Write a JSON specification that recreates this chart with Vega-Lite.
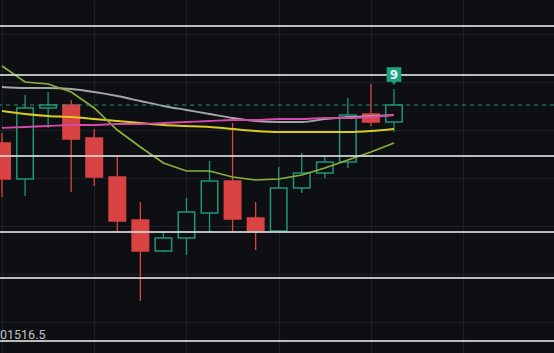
{
  "$schema": "https://vega.github.io/schema/vega-lite/v6.json",
  "width": 554,
  "height": 353,
  "autosize": {"type": "none"},
  "padding": 0,
  "background": "#0e0f12",
  "config": {
    "view": {"stroke": null, "fill": "#0e0f12"},
    "axis": {"labels": false, "ticks": false, "domain": false, "title": null, "gridColor": "#1d1f24", "gridWidth": 1.2, "gridOpacity": 1, "minExtent": 0, "maxExtent": 0, "offset": 0}
  },
  "datasets": {
    "candles": [
      {"i": 0, "open": 101714.5, "close": 101678.5, "high": 101724.5, "low": 101660.5, "ma_green": 101791.5, "ma_gray": 101770.5, "ma_yellow": 101746.5, "ma_pink": 101729.5},
      {"i": 1, "open": 101678.5, "close": 101749.5, "high": 101762.5, "low": 101661.5, "ma_green": 101775.5, "ma_gray": 101769.5, "ma_yellow": 101743.5, "ma_pink": 101730.5},
      {"i": 2, "open": 101749.5, "close": 101752.5, "high": 101765.5, "low": 101729.5, "ma_green": 101773.5, "ma_gray": 101769.5, "ma_yellow": 101741.5, "ma_pink": 101731.5},
      {"i": 3, "open": 101752.5, "close": 101718.5, "high": 101757.5, "low": 101665.5, "ma_green": 101765.5, "ma_gray": 101768.5, "ma_yellow": 101740.5, "ma_pink": 101732.5},
      {"i": 4, "open": 101719.5, "close": 101680.5, "high": 101728.5, "low": 101671.5, "ma_green": 101749.5, "ma_gray": 101765.5, "ma_yellow": 101738.5, "ma_pink": 101732.5},
      {"i": 5, "open": 101680.5, "close": 101636.5, "high": 101701.5, "low": 101625.5, "ma_green": 101727.5, "ma_gray": 101761.5, "ma_yellow": 101736.5, "ma_pink": 101733.5},
      {"i": 6, "open": 101637.5, "close": 101606.5, "high": 101655.5, "low": 101556.5, "ma_green": 101710.5, "ma_gray": 101756.5, "ma_yellow": 101734.5, "ma_pink": 101733.5},
      {"i": 7, "open": 101606.5, "close": 101619.5, "high": 101626.5, "low": 101605.5, "ma_green": 101694.5, "ma_gray": 101751.5, "ma_yellow": 101732.5, "ma_pink": 101734.5},
      {"i": 8, "open": 101619.5, "close": 101645.5, "high": 101659.5, "low": 101602.5, "ma_green": 101686.5, "ma_gray": 101747.5, "ma_yellow": 101731.5, "ma_pink": 101735.5},
      {"i": 9, "open": 101644.5, "close": 101676.5, "high": 101696.5, "low": 101625.5, "ma_green": 101686.5, "ma_gray": 101743.5, "ma_yellow": 101730.5, "ma_pink": 101736.5},
      {"i": 10, "open": 101676.5, "close": 101638.5, "high": 101734.5, "low": 101625.5, "ma_green": 101680.5, "ma_gray": 101739.5, "ma_yellow": 101728.5, "ma_pink": 101737.5},
      {"i": 11, "open": 101639.5, "close": 101626.5, "high": 101655.5, "low": 101607.5, "ma_green": 101677.5, "ma_gray": 101736.5, "ma_yellow": 101726.5, "ma_pink": 101737.5},
      {"i": 12, "open": 101626.5, "close": 101669.5, "high": 101690.5, "low": 101626.5, "ma_green": 101678.5, "ma_gray": 101735.5, "ma_yellow": 101725.5, "ma_pink": 101738.5},
      {"i": 13, "open": 101669.5, "close": 101684.5, "high": 101704.5, "low": 101664.5, "ma_green": 101682.5, "ma_gray": 101735.5, "ma_yellow": 101725.5, "ma_pink": 101738.5},
      {"i": 14, "open": 101684.5, "close": 101695.5, "high": 101700.5, "low": 101679.5, "ma_green": 101689.5, "ma_gray": 101738.5, "ma_yellow": 101725.5, "ma_pink": 101739.5},
      {"i": 15, "open": 101695.5, "close": 101742.5, "high": 101759.5, "low": 101689.5, "ma_green": 101697.5, "ma_gray": 101740.5, "ma_yellow": 101725.5, "ma_pink": 101739.5},
      {"i": 16, "open": 101743.5, "close": 101735.5, "high": 101773.5, "low": 101731.5, "ma_green": 101705.5, "ma_gray": 101741.5, "ma_yellow": 101726.5, "ma_pink": 101740.5},
      {"i": 17, "open": 101735.5, "close": 101752.5, "high": 101768.5, "low": 101725.5, "ma_green": 101714.5, "ma_gray": 101742.5, "ma_yellow": 101728.5, "ma_pink": 101742.5}
    ],
    "levels": [
      {"price": 101831.5},
      {"price": 101782.5},
      {"price": 101701.5},
      {"price": 101625.5},
      {"price": 101579.5},
      {"price": 101516.5}
    ],
    "last": [{"price": 101752.5}],
    "marker": [{"i": 17, "price": 101783, "tip": 101774.5, "label": "9"}],
    "priceLabel": [{"i": -0.087, "price": 101518.5, "label": "01516.5"}]
  },
  "encoding": {
    "x": {"type": "quantitative", "scale": {"domain": [-0.087, 23.94], "nice": false, "zero": false, "padding": 0},
          "axis": {"values": [0, 4, 8, 12, 16, 20], "grid": true}}
  },
  "layer": [
    {
      "data": {"name": "candles"},
      "mark": {"type": "rule", "strokeWidth": 1.3, "clip": true},
      "encoding": {
        "x": {"field": "i", "type": "quantitative"},
        "y": {"field": "low", "type": "quantitative",
              "scale": {"domain": [101504.5, 101857.5], "nice": false, "zero": false, "padding": 0},
              "axis": {"values": [101823.5, 101775.5, 101727.5, 101679.5, 101631.5, 101583.5, 101535.5], "grid": true}},
        "y2": {"field": "high"},
        "color": {"condition": {"test": "datum.close < datum.open", "value": "#d94343"}, "value": "#1f957a"}
      }
    },
    {
      "data": {"name": "candles"},
      "mark": {"type": "bar", "size": 16.5, "strokeWidth": 1.5, "clip": true},
      "encoding": {
        "x": {"field": "i", "type": "quantitative"},
        "y": {"field": "open", "type": "quantitative"},
        "y2": {"field": "close"},
        "fill": {"condition": {"test": "datum.close < datum.open", "value": "#d94343"}, "value": "#0e0f12"},
        "stroke": {"condition": {"test": "datum.close < datum.open", "value": "#d94343"}, "value": "#1f957a"}
      }
    },
    {
      "data": {"name": "candles"},
      "mark": {"type": "line", "color": "#a4a6a9", "strokeWidth": 1.8, "interpolate": "monotone", "clip": true},
      "encoding": {"x": {"field": "i", "type": "quantitative"}, "y": {"field": "ma_gray", "type": "quantitative"}}
    },
    {
      "data": {"name": "candles"},
      "mark": {"type": "line", "color": "#d9cc1f", "strokeWidth": 2, "interpolate": "monotone", "clip": true},
      "encoding": {"x": {"field": "i", "type": "quantitative"}, "y": {"field": "ma_yellow", "type": "quantitative"}}
    },
    {
      "data": {"name": "candles"},
      "mark": {"type": "line", "color": "#86b23c", "strokeWidth": 1.7, "interpolate": "linear", "clip": true},
      "encoding": {"x": {"field": "i", "type": "quantitative"}, "y": {"field": "ma_green", "type": "quantitative"}}
    },
    {
      "data": {"name": "candles"},
      "mark": {"type": "line", "color": "#d448a8", "strokeWidth": 1.8, "interpolate": "monotone", "clip": true},
      "encoding": {"x": {"field": "i", "type": "quantitative"}, "y": {"field": "ma_pink", "type": "quantitative"}}
    },
    {
      "data": {"name": "levels"},
      "mark": {"type": "rule", "color": "#cfcfcf", "strokeWidth": 2, "opacity": 0.9},
      "encoding": {"y": {"field": "price", "type": "quantitative"}}
    },
    {
      "data": {"name": "last"},
      "mark": {"type": "rule", "color": "#1f957a", "strokeWidth": 1.2, "strokeDash": [4, 4]},
      "encoding": {"y": {"field": "price", "type": "quantitative"}}
    },
    {
      "data": {"name": "marker"},
      "mark": {"type": "point", "shape": "triangle-down", "filled": true, "size": 25, "color": "#1ea085", "opacity": 1},
      "encoding": {"x": {"field": "i", "type": "quantitative"}, "y": {"field": "tip", "type": "quantitative"}}
    },
    {
      "data": {"name": "marker"},
      "mark": {"type": "square", "filled": true, "size": 215, "color": "#1ea085", "opacity": 1},
      "encoding": {"x": {"field": "i", "type": "quantitative"}, "y": {"field": "price", "type": "quantitative"}}
    },
    {
      "data": {"name": "marker"},
      "mark": {"type": "text", "color": "#e8f5f1", "fontSize": 12, "fontWeight": "bold", "font": "DejaVu Sans", "baseline": "middle", "align": "center"},
      "encoding": {"x": {"field": "i", "type": "quantitative"}, "y": {"field": "price", "type": "quantitative"}, "text": {"field": "label"}}
    },
    {
      "data": {"name": "priceLabel"},
      "mark": {"type": "text", "color": "#bfc2c8", "fontSize": 12.5, "font": "Roboto", "baseline": "alphabetic", "align": "left"},
      "encoding": {"x": {"field": "i", "type": "quantitative"}, "y": {"field": "price", "type": "quantitative"}, "text": {"field": "label"}}
    }
  ]
}
